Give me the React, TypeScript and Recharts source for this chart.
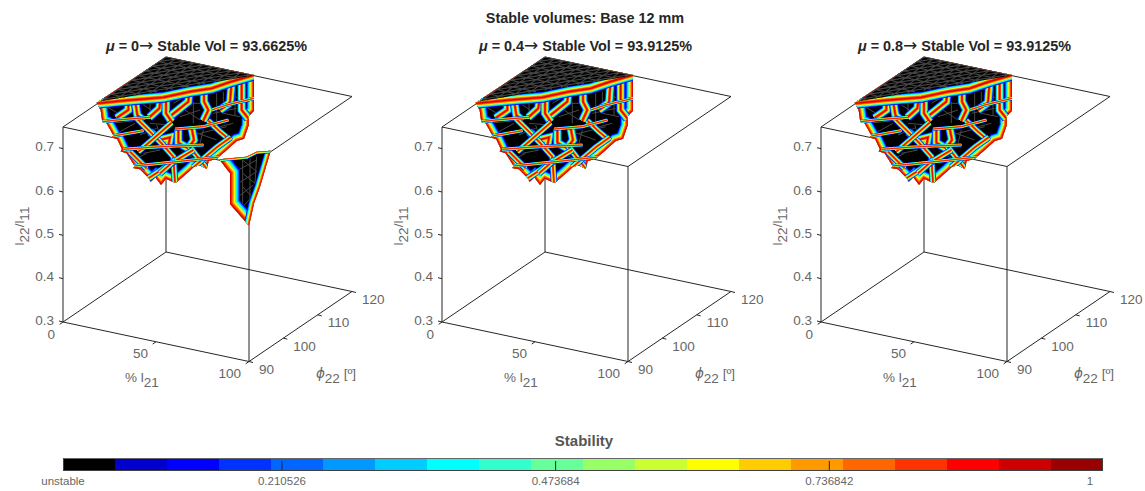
import { ScatterChart, Scatter, XAxis, YAxis, BarChart, Bar } from 'recharts';

// 3D axis ticks
const l21Ticks = [0, 50, 100];
const phiTicks = [90, 100, 110, 120];
const ratioTicks = [0.3, 0.4, 0.5, 0.6, 0.7];
const meshL21 = [0, 5, 10, 15, 20, 25, 30, 35, 40, 45];
const meshPhi = [120, 118, 116, 114, 112, 110, 108, 106, 104, 102];

// panels
const muLabels = ['0', '0.4', '0.8'];
const stableVolumes = ['93.6625', '93.9125', '93.9125'];

// colour bar
const barColors = ['#000000', '#0000cc', '#0000ff', '#0033ff', '#0066ff', '#0099ff', '#00ccff', '#00ffff', '#33ffcc', '#66ff99',
  '#99ff66', '#ccff33', '#ffff00', '#ffcc00', '#ff9900', '#ff6600', '#ff3300', '#ff0000', '#cc0000', '#990000'];
const barTicks = [0, 0.210526, 0.473684, 0.736842, 1];

// Surface traces, in view units (a third of a pixel) because a projected 3D surface has no unique data triple
const surfaceOutline = [[110, 128], [122, 150], [127, 186], [140, 190], [160, 226], [156, 232], [172, 238], [186, 268], [182, 274], [200, 280], [224, 318], [220, 324],
  [240, 328], [266, 354], [272, 365], [286, 352], [303, 374], [318, 356], [347, 369], [385, 336], [400, 322], [420, 316], [440, 327], [446, 303], [470, 296],
  [500, 270], [530, 243], [552, 236], [566, 196], [566, 168], [582, 152], [582, 45], [318, -9]];
const upperEdge = [[110, 130], [200, 121], [310, 112], [390, 95], [455, 85], [510, 66], [582, 45]];
const wideRidges = [
  [[205, 122], [205, 150], [170, 174]],
  [[225, 120], [232, 165], [250, 182]],
  [[302, 115], [298, 145], [268, 172]],
  [[318, 112], [318, 160], [335, 185]],
  [[388, 95], [385, 125], [335, 165]],
  [[432, 88], [432, 125], [445, 150], [430, 182]],
  [[515, 64], [510, 128], [480, 150]],
  [[545, 56], [545, 150], [565, 175]],
  [[270, 215], [300, 240], [330, 232], [325, 258]],
  [[355, 208], [355, 248], [385, 265], [402, 240], [395, 205]],
];
const mediumRidges = [
  [[230, 175], [265, 210], [300, 245], [340, 290], [345, 368]],
  [[335, 188], [270, 245], [235, 275]],
  [[445, 182], [480, 215], [512, 242]],
  [[385, 255], [440, 326]],
  [[265, 355], [350, 300], [400, 270]],
  [[400, 322], [470, 262], [512, 232]],
  [[210, 275], [260, 325]],
  [[300, 340], [345, 300]],
];
const thinRidges = [
  [[128, 185], [170, 180], [270, 172]],
  [[455, 150], [500, 135], [582, 115]],
  [[345, 207], [430, 200], [505, 180]],
  [[160, 228], [250, 212]],
  [[190, 268], [270, 262], [350, 258], [430, 255]],
  [[222, 318], [350, 305], [480, 291]],
];
const underMesh = [
  [[140, 140], [200, 175]], [[150, 190], [240, 180]], [[180, 215], [225, 190]], [[360, 170], [420, 150]], [[360, 140], [420, 180]],
  [[470, 100], [470, 190]], [[490, 160], [540, 170]], [[520, 190], [480, 200]], [[250, 135], [290, 160]], [[270, 190], [330, 195]],
  [[400, 215], [470, 240]], [[430, 210], [420, 250]], [[240, 225], [290, 205]], [[220, 300], [260, 280]], [[300, 330], [340, 345]], [[500, 90], [540, 120]],
  [[150, 140], [190, 130]], [[340, 130], [375, 110]], [[400, 125], [400, 190]], [[490, 95], [490, 160]], [[525, 85], [525, 165]], [[270, 125], [270, 165]],
  [[360, 130], [420, 130]], [[460, 160], [530, 145]], [[290, 195], [300, 225]], [[420, 220], [500, 200]], [[250, 280], [300, 270]], [[365, 275], [410, 300]],
];
const wedgeOutline = [[478, 298], [510, 340], [510, 432], [567, 497], [582, 430], [600, 380], [632, 272], [590, 275], [560, 290]];
const wedgeWideSides = [[[478, 298], [510, 340], [510, 432], [567, 497]]];
const wedgeNarrowSides = [[[567, 497], [582, 430], [600, 380], [632, 272]]];
const wedgeTopSides = [[[632, 272], [590, 275], [560, 290], [478, 298]]];
const wedgeMesh = [
  [[548, 300], [548, 445]], [[570, 295], [570, 440]], [[590, 290], [585, 370]], [[535, 330], [590, 300]], [[535, 370], [590, 335]],
  [[535, 410], [580, 375]], [[545, 445], [575, 410]], [[548, 300], [590, 335]], [[548, 340], [585, 370]], [[548, 380], [575, 410]],
];

const bandColors = ['#0000ff', '#0088ff', '#00ffff', '#66ff88', '#ffff00', '#ff9900', '#ff3300', '#dd0000'];

const FONT = '"Liberation Sans", Arial, sans-serif';
const TICK_COLOR = '#666666';
const LINE_COLOR = '#262626';
const CHART_W = 387;
const CHART_H = 400;
const PANEL_STEP = 379;

// view units: 3 per pixel, origin at pixel (60, 60)
const project = (l21: number, phi: number, ratio: number) => ({
  x: 9 + 5.58 * l21 + 10.3 * (phi - 90),
  y: 786 + 1.185 * l21 - 7 * (phi - 90) - (ratio - 0.3) * 1300,
});
const toXY = (list: number[][]) => list.map(([x, y]) => ({ x, y }));
const corner = (l21: number, phi: number, ratio: number) => project(l21, phi, ratio);

const boxEdges = [
  corner(0, 90, 0.3), corner(100, 90, 0.3), corner(100, 90, 0.3), corner(100, 120, 0.3),
  corner(0, 90, 0.3), corner(0, 120, 0.3), corner(0, 120, 0.3), corner(100, 120, 0.3),
  corner(0, 90, 0.75), corner(100, 90, 0.75), corner(100, 90, 0.75), corner(100, 120, 0.75),
  corner(0, 90, 0.75), corner(0, 120, 0.75), corner(0, 120, 0.75), corner(100, 120, 0.75),
  corner(0, 90, 0.3), corner(0, 90, 0.75), corner(100, 90, 0.3), corner(100, 90, 0.75),
  corner(0, 120, 0.3), corner(0, 120, 0.75),
];

// flat cap of the surface at the top of the box, meshed
const capFront = (l21: number) => 101 + (19 * l21) / 47;
const capFace = [corner(0, 101, 0.75), corner(0, 120, 0.75), corner(47, 120, 0.75)];
const capMesh = [
  ...meshL21.flatMap((l) => [corner(l, 120, 0.75), corner(l, capFront(l), 0.75)]),
  ...meshPhi.flatMap((p) => [corner(0, p, 0.75), corner((47 * (p - 101)) / 19, p, 0.75)]),
  ...meshL21.slice(1).flatMap((l, i) => [corner(l, 120, 0.75), corner(0, meshPhi[i + 1], 0.75)]),
];

const pathOf = (pts: { x: number; y: number }[]) => pts.map((p, i) => `${i ? 'L' : 'M'}${p.x} ${p.y}`).join('');
const noDot = () => <g />;

// draws consecutive pairs of points as separate segments
const segmentLine = (stroke: string, width: number) => (props: any) => (
  <path
    d={props.points.map((p: any, i: number) => `${i % 2 ? 'L' : 'M'}${p.x} ${p.y}`).join('')}
    fill="none"
    stroke={stroke}
    strokeWidth={width}
  />
);

const polygonLine = (fill: string, clipId?: string) => (props: any) => (
  <g>
    {clipId && (
      <defs>
        <clipPath id={clipId}>
          <path d={pathOf(props.points) + 'Z'} />
        </clipPath>
      </defs>
    )}
    <path d={pathOf(props.points) + 'Z'} fill={fill} />
  </g>
);

// rainbow band: blue on the outside, red along the ridge
const bandLine = (clipId: string, width: number) => (props: any) => (
  <g clipPath={`url(#${clipId})`}>
    {bandColors.map((c, i) => (
      <path
        key={c}
        d={pathOf(props.points)}
        fill="none"
        stroke={c}
        strokeWidth={width * (1 - i / bandColors.length)}
        strokeLinejoin="miter"
      />
    ))}
  </g>
);

const lineSeries = (key: string, pts: { x: number; y: number }[], line: any) => (
  <Scatter key={key} data={pts} line={line} shape={noDot} isAnimationActive={false} />
);

const tickText = (label: (v: any) => string, anchor: string, dx: number, dy: number) => (props: any) => (
  <text x={props.cx + dx} y={props.cy + dy} textAnchor={anchor} dominantBaseline="central" fontSize={13.5} fontFamily={FONT} fill={TICK_COLOR}>
    {label(props.payload)}
  </text>
);

const Panel = ({ index }: { index: number }) => {
  const outlineClip = `under-${index}`;
  const wedgeClip = `wedge-${index}`;
  const showWedge = index === 0;

  const tickMarks = [
    ...ratioTicks.flatMap((r) => [corner(0, 90, r), { x: corner(0, 90, r).x - 12, y: corner(0, 90, r).y - 3 }]),
    ...l21Ticks.flatMap((l) => [corner(l, 90, 0.3), { x: corner(l, 90, 0.3).x - 10, y: corner(l, 90, 0.3).y + 7 }]),
    ...phiTicks.flatMap((p) => [corner(100, p, 0.3), { x: corner(100, p, 0.3).x + 12, y: corner(100, p, 0.3).y + 3 }]),
  ];

  return (
    <div style={{ position: 'absolute', left: index * PANEL_STEP, top: 0 }}>
      <ScatterChart width={CHART_W} height={CHART_H} margin={{ top: 0, right: 0, bottom: 0, left: 0 }}>
        <XAxis type="number" dataKey="x" domain={[-180, (CHART_W - 60) * 3]} hide allowDataOverflow />
        <YAxis type="number" dataKey="y" domain={[-180, (CHART_H - 60) * 3]} reversed hide allowDataOverflow />

        {lineSeries('box', boxEdges, segmentLine(LINE_COLOR, 1))}
        {lineSeries('ticks', tickMarks, segmentLine(LINE_COLOR, 1))}

        {lineSeries('under', toXY(surfaceOutline), polygonLine('#000000', outlineClip))}
        {lineSeries('under-mesh', toXY(underMesh.flat()), segmentLine('#484848', 1))}
        {lineSeries('outline-band', toXY([...surfaceOutline, surfaceOutline[0]]), bandLine(outlineClip, 15))}
        {wideRidges.map((r, i) => lineSeries(`wide-${i}`, toXY(r), bandLine(outlineClip, 9)))}
        {mediumRidges.map((r, i) => lineSeries(`medium-${i}`, toXY(r), bandLine(outlineClip, 6.5)))}
        {thinRidges.map((r, i) => lineSeries(`thin-${i}`, toXY(r), bandLine(outlineClip, 3.5)))}
        {lineSeries('upper-edge', toXY(upperEdge), bandLine(outlineClip, 11))}
        {lineSeries('cap', capFace, polygonLine('#000000'))}
        {lineSeries('cap-mesh', capMesh, segmentLine('#454545', 1.1))}

        {showWedge && lineSeries('wedge', toXY(wedgeOutline), polygonLine('#000000', wedgeClip))}
        {showWedge && lineSeries('wedge-mesh', toXY(wedgeMesh.flat()), segmentLine('#484848', 1))}
        {showWedge && wedgeWideSides.map((r, i) => lineSeries(`wedge-w-${i}`, toXY(r), bandLine(wedgeClip, 20)))}
        {showWedge && wedgeNarrowSides.map((r, i) => lineSeries(`wedge-n-${i}`, toXY(r), bandLine(wedgeClip, 11)))}
        {showWedge && wedgeTopSides.map((r, i) => lineSeries(`wedge-t-${i}`, toXY(r), bandLine(wedgeClip, 5)))}

        <Scatter
          data={ratioTicks.map((r) => ({ ...corner(0, 90, r), label: String(r) }))}
          shape={tickText((p) => p.label, 'end', -9, -2)}
          isAnimationActive={false}
        />
        <Scatter
          data={l21Ticks.map((l) => ({ ...corner(l, 90, 0.3), label: String(l) }))}
          shape={tickText((p) => p.label, 'end', -8, 12)}
          isAnimationActive={false}
        />
        <Scatter
          data={phiTicks.map((p) => ({ ...corner(100, p, 0.3), label: String(p) }))}
          shape={tickText((p) => p.label, 'start', 10, 8)}
          isAnimationActive={false}
        />

        <text x={206.5} y={51} textAnchor="middle" fontSize={14.4} fontWeight="bold" fontFamily={FONT} fill="#262626">
          <tspan fontStyle="italic">μ</tspan> = {muLabels[index]}<tspan fontFamily="DejaVu Sans" fontWeight="normal" fontSize={17}>→</tspan> Stable Vol = {stableVolumes[index]}%
        </text>
        <text transform="translate(24 226) rotate(-90)" textAnchor="middle" fontSize={13.5} fontFamily={FONT} fill={TICK_COLOR}>
          l<tspan dy={5}>22</tspan><tspan dy={-5}>/l</tspan><tspan dy={5}>11</tspan>
        </text>
        <text x={142} y={382} textAnchor="middle" fontSize={13.5} fontFamily={FONT} fill={TICK_COLOR}>
          % l<tspan dy={5}>21</tspan>
        </text>
        <text x={336} y={378} textAnchor="middle" fontSize={13.5} fontFamily={FONT} fill={TICK_COLOR}>
          <tspan fontFamily="DejaVu Sans" fontStyle="italic">ϕ</tspan><tspan dy={5}>22</tspan><tspan dy={-5}> [º]</tspan>
        </text>
      </ScatterChart>
    </div>
  );
};

const barRow = [Object.fromEntries(barColors.map((_, i) => [`c${i}`, 0.05]))];

const ColorBarTick = (props: any) => {
  const { x, y, payload } = props;
  const v = payload.value;
  const label = v === 0 ? 'unstable' : String(v);
  const shift = v === 1 ? -13 : 0;
  return (
    <g>
      {v > 0 && v < 1 && <line x1={x} x2={x} y1={y - 18} y2={y - 8} stroke={LINE_COLOR} />}
      <text x={x + shift} y={y + 2} textAnchor="middle" dominantBaseline="central" fontSize={11.5} fontFamily={FONT} fill={TICK_COLOR}>
        {label}
      </text>
    </g>
  );
};

export default function App() {
  return (
    <div style={{ position: 'absolute', left: 0, top: 0, width: 1145, height: 491, background: '#ffffff', overflow: 'hidden' }}>
      {muLabels.map((_, i) => (
        <Panel key={i} index={i} />
      ))}
      <div style={{ position: 'absolute', left: 385, width: 400, top: 10, textAlign: 'center', fontFamily: FONT, fontWeight: 'bold', fontSize: 14.4, color: '#262626' }}>
        Stable volumes: Base 12 mm
      </div>
      <div style={{ position: 'absolute', left: 484, width: 200, top: 432, textAlign: 'center', fontFamily: FONT, fontWeight: 'bold', fontSize: 15, color: '#555555' }}>
        Stability
      </div>
      <div style={{ position: 'absolute', left: 0, top: 458 }}>
        <BarChart width={1145} height={33} layout="vertical" data={barRow} barCategoryGap={0} margin={{ top: 0, right: 42, bottom: 0, left: 63 }}>
          <XAxis type="number" domain={[0, 1]} ticks={barTicks} interval={0} height={20} axisLine={false} tickLine={false} tick={<ColorBarTick />} />
          <YAxis type="category" hide />
          {barColors.map((c, i) => (
            <Bar key={c} dataKey={`c${i}`} stackId="stability" fill={c} isAnimationActive={false} />
          ))}
        </BarChart>
      </div>
      <div style={{ position: 'absolute', left: 63, top: 458, width: 1040, height: 13, boxSizing: 'border-box', border: '1px solid #404040', borderTopColor: '#666666' }} />
    </div>
  );
}
